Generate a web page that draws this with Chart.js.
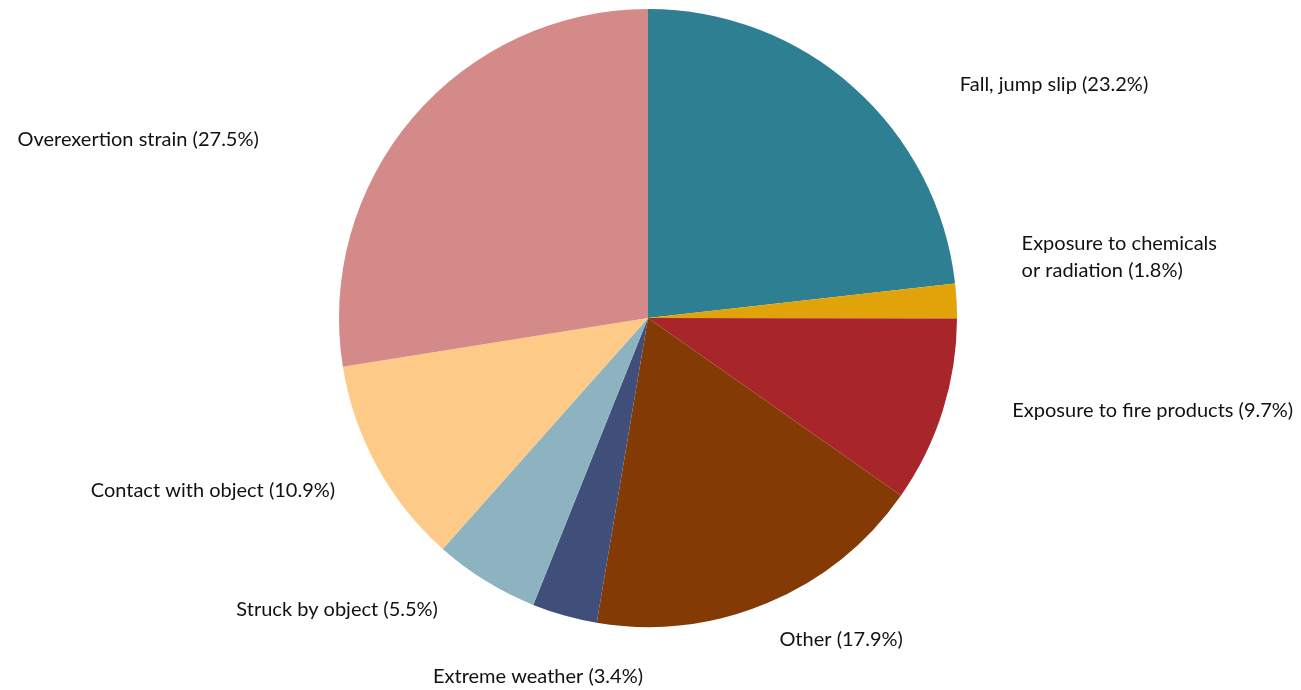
<!DOCTYPE html>
<html>
<head>
<meta charset="utf-8">
<script src="https://cdn.jsdelivr.net/npm/chart.js@4/dist/chart.umd.min.js"></script>
<style>
html,body{margin:0;padding:0;background:#fff;}
#wrap{width:1301px;height:690px;position:relative;}
</style>
</head>
<body>
<div id="wrap"><canvas id="c" width="1301" height="690"></canvas></div>
<script>
const categories = [
  "Fall, jump slip",
  "Exposure to chemicals or radiation",
  "Exposure to fire products",
  "Other",
  "Extreme weather",
  "Struck by object",
  "Contact with object",
  "Overexertion strain"
];
const percentages = [23.2, 1.8, 9.7, 17.9, 3.4, 5.5, 10.9, 27.5];
const labelLines = [
  ["Fall, jump slip (23.2%)"],
  ["Exposure to chemicals", "or radiation (1.8%)"],
  ["Exposure to fire products (9.7%)"],
  ["Other (17.9%)"],
  ["Extreme weather (3.4%)"],
  ["Struck by object (5.5%)"],
  ["Contact with object (10.9%)"],
  ["Overexertion strain (27.5%)"]
];
const colors = ["#2E7F91", "#E0A30A", "#A8262A", "#843A04", "#3F4F7A", "#8DB3C1", "#FDCA88", "#D38A89"];

// label placement relative to pie center, in units of radius; align
const labelLayout = [
  {x: 1.314, y: -0.757, align: "center"},
  {x: 1.209, y: -0.197, align: "left"},
  {x: 1.179, y: 0.301, align: "left"},
  {x: 0.625, y: 1.042, align: "center"},
  {x: -0.356, y: 1.159, align: "center"},
  {x: -1.006, y: 0.945, align: "center"},
  {x: -1.408, y: 0.560, align: "center"},
  {x: -1.650, y: -0.579, align: "center"}
];

const labelPlugin = {
  id: "outLabels",
  afterDatasetsDraw(chart) {
    const ctx = chart.ctx;
    const meta = chart.getDatasetMeta(0);
    ctx.save();
    ctx.font = "20px Lato, 'Open Sans', sans-serif";
    ctx.fillStyle = "#111111";
    ctx.textBaseline = "middle";
    meta.data.forEach((arc, i) => {
      const cx = arc.x, cy = arc.y, r = arc.outerRadius;
      const L = labelLayout[i];
      const px = cx + L.x * r, py = cy + L.y * r;
      const lines = labelLines[i];
      const lh = 27;
      ctx.textAlign = L.align;
      lines.forEach((t, k) => {
        ctx.fillText(t, px, py + (k - (lines.length - 1) / 2) * lh);
      });
    });
    ctx.restore();
  }
};

new Chart(document.getElementById("c"), {
  type: "pie",
  data: {
    labels: categories,
    datasets: [{
      data: percentages,
      backgroundColor: colors,
      borderWidth: 0,
      hoverOffset: 0
    }]
  },
  options: {
    responsive: false,
    animation: false,
    layout: {padding: {top: 9, bottom: 63, left: 0, right: 5}},
    plugins: {legend: {display: false}, tooltip: {enabled: false}}
  },
  plugins: [labelPlugin]
});
</script>
</body>
</html>
